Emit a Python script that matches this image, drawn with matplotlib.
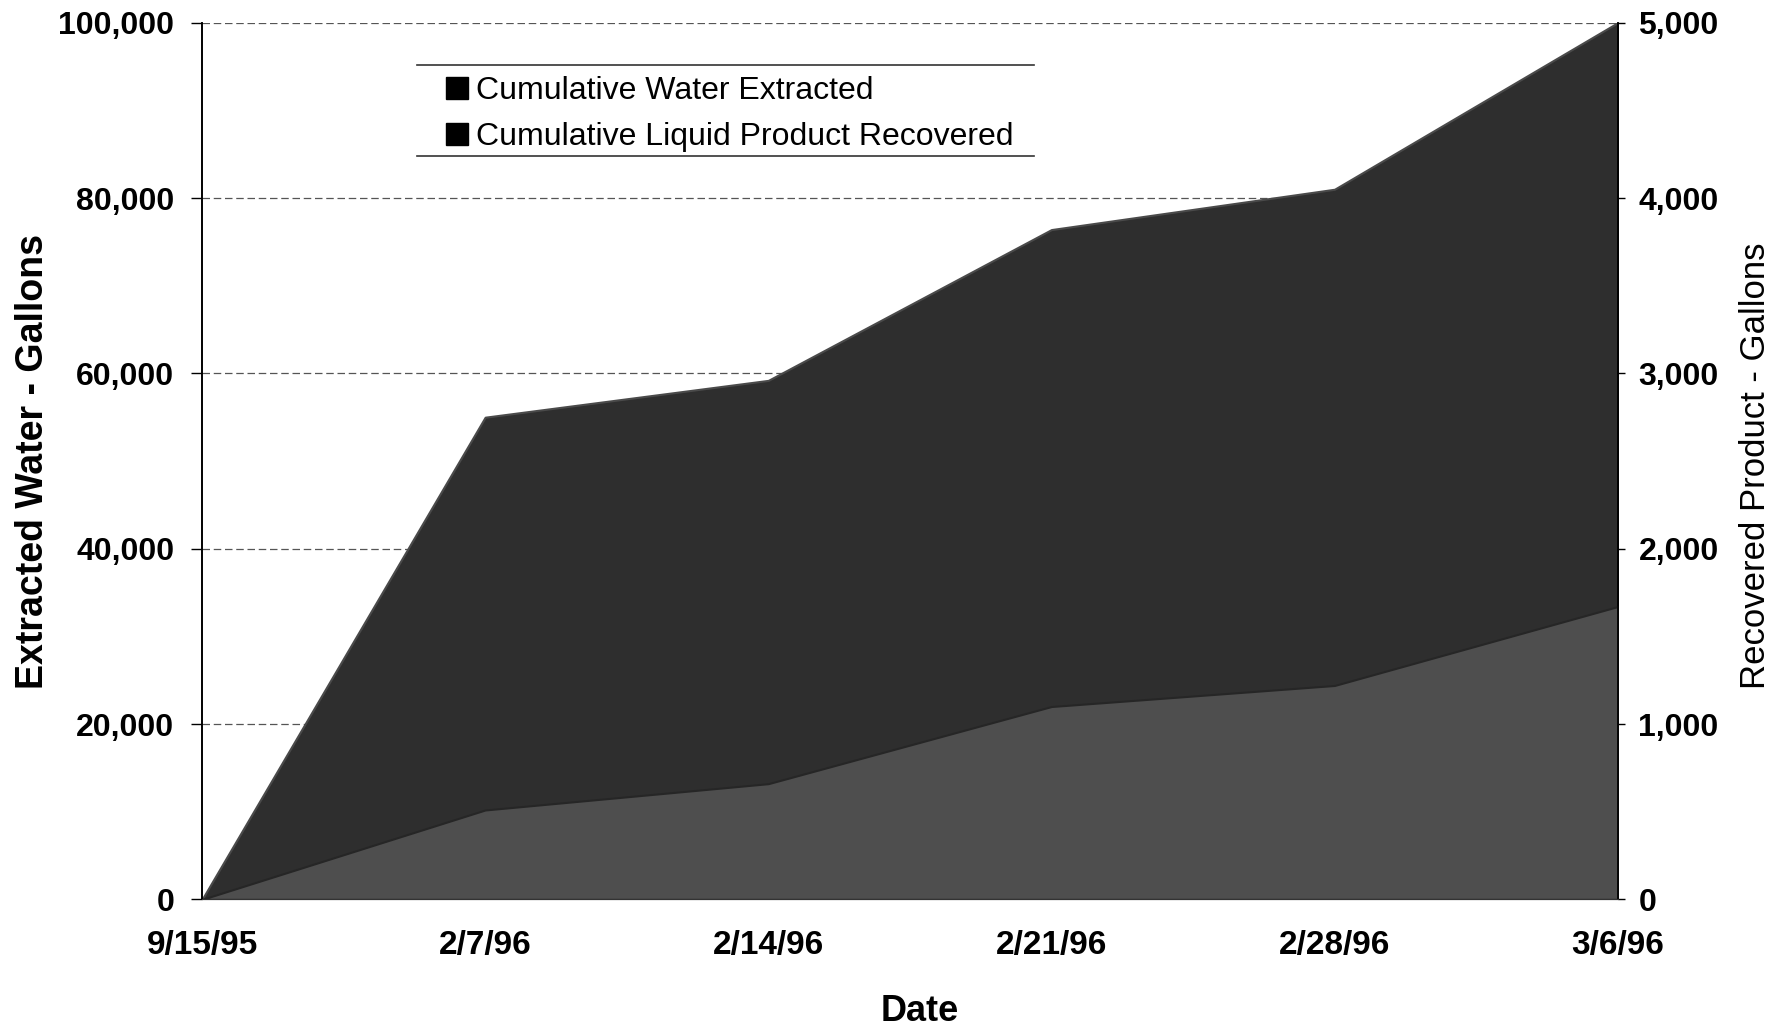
"""
Cumulative extracted water vs. recovered liquid product, two-axis area chart.
"""

import matplotlib
matplotlib.use("Agg")
import matplotlib.pyplot as plt
from matplotlib.lines import Line2D
from matplotlib.patches import Patch
from matplotlib.ticker import FuncFormatter

# ── Data ─────────────────────────────────────────────────────────
DATES = ["9/15/95", "2/7/96", "2/14/96", "2/21/96", "2/28/96", "3/6/96"]
WATER_GAL = [0, 55000, 59200, 76400, 81000, 100000]      # left axis
PRODUCT_GAL = [0, 510, 660, 1100, 1220, 1670]             # right axis

LEFT_TICKS = [0, 20000, 40000, 60000, 80000, 100000]
RIGHT_TICKS = [0, 1000, 2000, 3000, 4000, 5000]

# ── Styles ───────────────────────────────────────────────────────
WATER_COLOR = "#2e2e2e"
PRODUCT_COLOR = "#4e4e4e"
TICK_FONT = ["Liberation Sans", "DejaVu Sans"]

plt.rcParams["font.family"] = TICK_FONT

fig = plt.figure(figsize=(17.8, 10.3), dpi=100)
ax = fig.add_axes([0.1135, 0.1268, 0.7953, 0.8512])
ax2 = ax.twinx()

x = list(range(len(DATES)))

# water (dark) on the left axis, product (lighter) on the right axis
ax.fill_between(x, 0, WATER_GAL, color=WATER_COLOR, edgecolor="#4a4a4a",
                linewidth=1.5, zorder=2)
ax2.fill_between(x, 0, PRODUCT_GAL, color=PRODUCT_COLOR, edgecolor="#262626",
                 linewidth=1.5, zorder=2)

ax.set_xlim(x[0], x[-1])
ax.set_ylim(0, 100000)
ax2.set_ylim(0, 5000)

comma = FuncFormatter(lambda v, _: f"{int(v):,}")
ax.set_yticks(LEFT_TICKS)
ax.yaxis.set_major_formatter(comma)
ax2.set_yticks(RIGHT_TICKS)
ax2.yaxis.set_major_formatter(comma)

ax.set_xticks(x)
ax.set_xticklabels(DATES, fontweight="bold", fontsize=24)
ax.tick_params(axis="x", length=0, pad=22)
ax.tick_params(axis="y", length=8, width=1, pad=12, labelsize=23)
ax2.tick_params(axis="y", length=5, width=1, pad=10, labelsize=23)
for lbl in ax.get_yticklabels() + ax2.get_yticklabels():
    lbl.set_fontweight("bold")

# dashed gridlines sit behind the areas
ax.set_axisbelow(True)
ax.grid(axis="y", color="#555555", linestyle=(0, (6, 3)), linewidth=0.9)

for a in (ax, ax2):
    a.spines["top"].set_visible(False)
    a.spines["left"].set_linewidth(1.2)
    a.spines["right"].set_linewidth(1.2)
    a.spines["bottom"].set_color("#333333")

ax.set_ylabel("Extracted Water - Gallons", fontsize=27, fontweight="bold")
ax.yaxis.set_label_coords(-0.107, 0.5)
ax2.set_ylabel("Recovered Product - Gallons", fontsize=25)
ax2.yaxis.set_label_coords(1.086, 0.495)
ax.set_xlabel("Date", fontsize=26, fontweight="bold")
ax.xaxis.set_label_coords(0.507, -0.108)

# legend: black squares, only a rule above and below
handles = [Patch(facecolor="black", edgecolor="black"),
           Patch(facecolor="black", edgecolor="black")]
fig.legend(handles, ["Cumulative Water Extracted",
                     "Cumulative Liquid Product Recovered"],
           loc="upper left", bbox_to_anchor=(0.2506, 0.926),
           frameon=False, fontsize=23, handlelength=0.7, handleheight=0.7,
           handletextpad=0.25, labelspacing=0.5, borderpad=0, borderaxespad=0)
for yy in (0.9369, 0.8485):
    fig.add_artist(Line2D([0.234, 0.581], [yy, yy], transform=fig.transFigure,
                          color="#333333", linewidth=1.2))

fig.savefig("out.png", dpi=100)
